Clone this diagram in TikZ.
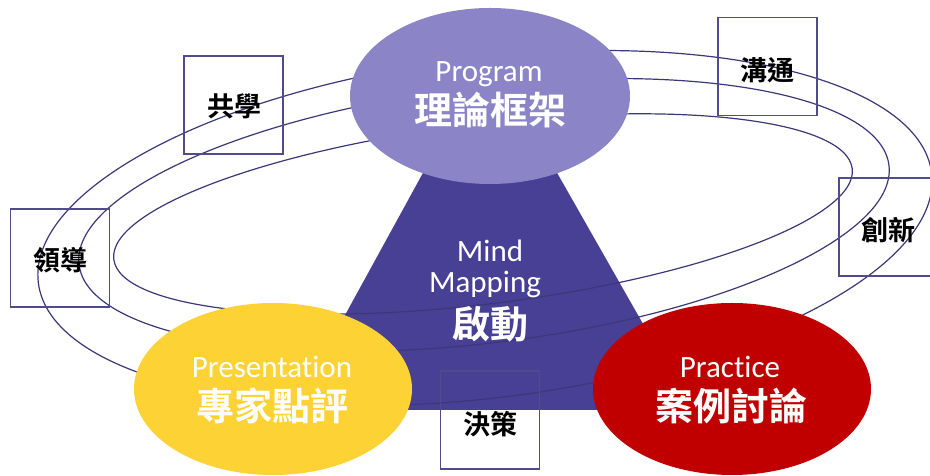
\documentclass[tikz,border=0pt]{standalone}
\usepackage{fontspec}
\setmainfont{Carlito}[Ligatures={NoCommon}]
\newfontfamily\cjk{Noto Sans CJK TC}[BoldFont={Noto Sans CJK TC Bold}]
\usetikzlibrary{shapes.geometric}
\definecolor{trapc}{RGB}{72,64,148}
\definecolor{topc}{RGB}{139,133,200}
\definecolor{yelc}{RGB}{253,210,52}
\definecolor{redc}{RGB}{192,0,0}
\definecolor{orbitc}{RGB}{60,56,120}
\definecolor{boxc}{RGB}{80,76,140}
\tikzset{
  orbit/.style={draw=orbitc, line width=1.2pt},
  blob/.style={ellipse, inner sep=0pt, minimum width=278pt, minimum height=172pt, draw=none},
  lbox/.style={rectangle, draw=boxc, line width=1.2pt, minimum width=99pt, minimum height=98pt, inner sep=0pt},
  en/.style={text=white, font=\fontsize{31}{31}\selectfont, anchor=base, inner sep=0pt},
  zh/.style={text=white, font=\cjk\bfseries\fontsize{38}{38}\selectfont, anchor=base, inner sep=0pt},
  bl/.style={text=black, font=\cjk\bfseries\fontsize{27}{27}\selectfont, anchor=center, inner sep=0pt}
}
\begin{document}
\begin{tikzpicture}[x=1pt,y=1pt]
\useasboundingbox (0,0) rectangle (930,476);
\fill[white] (0,0) rectangle (930,476);
% trapezoid
\fill[trapc] (293,66) -- (692,66) -- (527,356) -- (452,356) -- cycle;
% orbits
\draw[orbit, rotate around={7:(485,248)}] (485,248) ellipse [x radius=450, y radius=170];
\draw[orbit, rotate around={7:(484,261)}] (484,261) ellipse [x radius=408, y radius=128];
\draw[orbit, rotate around={7:(483,262)}] (483,262) ellipse [x radius=372, y radius=90];
% coloured ellipses
\node[blob, fill=topc, minimum height=176pt, minimum width=280pt] (prog) at (490,380) {};
\node[blob, fill=yelc] (pres) at (273,87) {};
\node[blob, fill=redc] (prac) at (732,87) {};
% boxes
\node[lbox] (b1) at (233.5,371) {};
\node[lbox] (b2) at (767.5,409.5) {};
\node[lbox] (b3) at (888.5,249) {};
\node[lbox] (b4) at (60,218) {};
\node[lbox] (b5) at (490,56) {};
% texts
\node[en] (t1) at (489,394) {Program};
\node[zh] (t2) at (490,351) {理論框架};
\node[en] (t3) at (490,214) {Mind};
\node[en] (t4) at (485,183) {Mapping};
\node[zh] (t5) at (490,137) {啟動};
\node[en] (t6) at (272,98) {Presentation};
\node[zh] (t7) at (272,55) {專家點評};
\node[en] (t8) at (730,98) {Practice};
\node[zh] (t9) at (731,55) {案例討論};
\node[bl] (l1) at (234.5,370) {共學};
\node[bl] (l2) at (767,406) {溝通};
\node[bl] (l3) at (888.5,245.5) {創新};
\node[bl] (l4) at (61,216) {領導};
\node[bl] (l5) at (490,51.5) {決策};
\end{tikzpicture}
\end{document}
